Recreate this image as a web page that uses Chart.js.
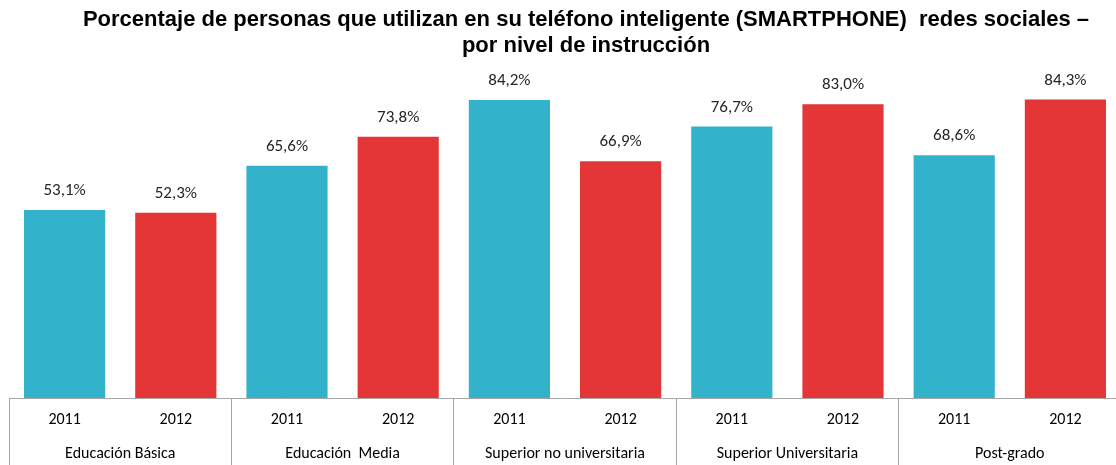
<!DOCTYPE html>
<html>
<head>
<meta charset="utf-8">
<script src="https://cdn.jsdelivr.net/npm/chart.js@4"></script>
<style>
  body { margin: 0; overflow: hidden; background: #fff; width: 1116px; height: 465px; }
  #wrap { position: absolute; left: 0; top: 0; width: 1131px; height: 465px; }
  #titulo {
    position: absolute; left: 0; top: 6px; width: 1172px; text-align: center;
    font: bold 22px "Liberation Sans", Arial, sans-serif; line-height: 26px; color: #000;
  }
</style>
</head>
<body>
<div id="wrap">
  <canvas id="grafico" width="1131" height="465"></canvas>
  <div id="titulo">Porcentaje de personas que utilizan en su teléfono inteligente (SMARTPHONE)&nbsp; redes sociales –<br>por nivel de instrucción</div>
</div>
<script>
var niveles = ['Educación Básica', 'Educación  Media', 'Superior no universitaria', 'Superior Universitaria', 'Post-grado'];
var anios = ['2011', '2012'];
var valores2011 = [53.1, 65.6, 84.2, 76.7, 68.6];
var valores2012 = [52.3, 73.8, 66.9, 83.0, 84.3];

var fuente = 'Carlito, Lato, sans-serif';

// etiquetas de valor, años y niveles
var etiquetasPlugin = {
  id: 'etiquetas',
  afterDatasetsDraw: function(chart) {
    var ctx = chart.ctx;
    var abajo = chart.chartArea.bottom;
    ctx.save();
    ctx.textAlign = 'center';
    chart.data.datasets.forEach(function(ds, i) {
      var meta = chart.getDatasetMeta(i);
      meta.data.forEach(function(bar, j) {
        ctx.fillStyle = '#262626';
        ctx.font = '17px ' + fuente;
        ctx.textBaseline = 'middle';
        ctx.fillText(ds.data[j].toFixed(1).replace('.', ',') + '%', bar.x, bar.y - 19);
        ctx.fillStyle = '#000';
        ctx.font = '16px ' + fuente;
        ctx.fillText(ds.label, bar.x, abajo + 22);
      });
    });
    var xs = chart.scales.x;
    ctx.font = '16px ' + fuente;
    ctx.fillStyle = '#000';
    niveles.forEach(function(n, k) {
      ctx.fillText(n, xs.getPixelForValue(k), abajo + 56);
    });
    ctx.restore();
  }
};

new Chart(document.getElementById('grafico'), {
  type: 'bar',
  data: {
    labels: niveles,
    datasets: [{
      label: anios[0],
      data: valores2011,
      backgroundColor: '#33b2cb',
      categoryPercentage: 1,
      barPercentage: 0.73
    }, {
      label: anios[1],
      data: valores2012,
      backgroundColor: '#e43636',
      categoryPercentage: 1,
      barPercentage: 0.73
    }]
  },
  options: {
    responsive: false,
    animation: false,
    layout: { padding: { top: 44, left: 9, right: 10, bottom: 0 } },
    plugins: { legend: { display: false }, tooltip: { enabled: false } },
    scales: {
      y: { display: false, min: 0, max: 100 },
      x: {
        grid: { offset: true, drawOnChartArea: false, tickLength: 67, color: '#a6a6a6' },
        border: { display: true, color: '#a6a6a6' },
        ticks: { display: false }
      }
    }
  },
  plugins: [etiquetasPlugin]
});
</script>
</body>
</html>
